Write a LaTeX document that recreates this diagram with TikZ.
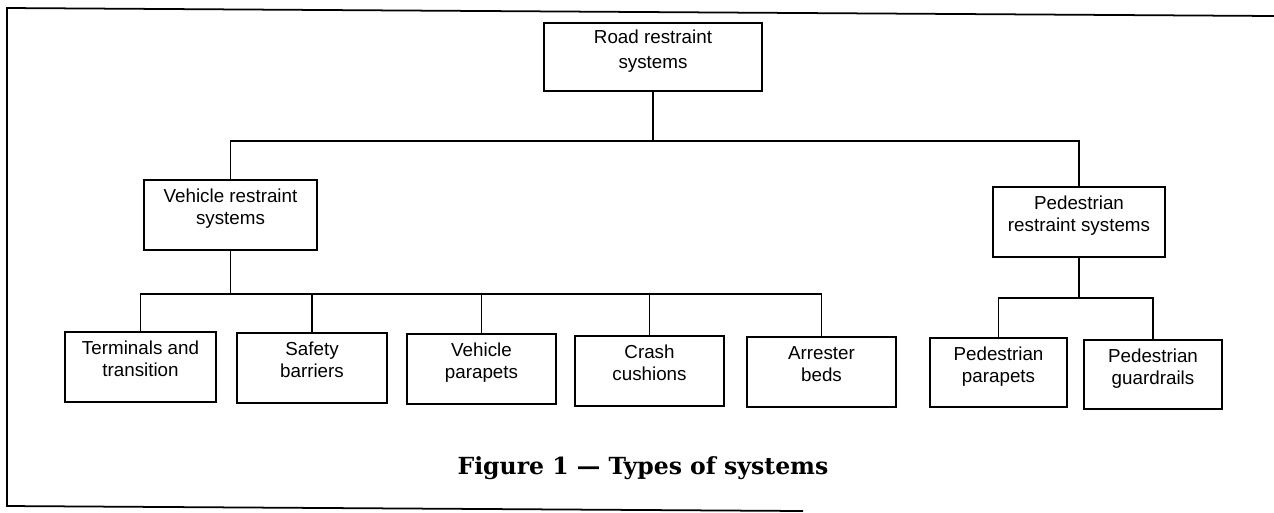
\documentclass[tikz,border=0pt]{standalone}
\usepackage{fontspec}
\setmainfont{Liberation Sans}
\newfontfamily\capfont{DejaVu Serif}
\begin{document}
\begin{tikzpicture}[x=0.02cm,y=-0.02cm,
  sysbox/.style={draw, line width=1.1pt, align=center, inner sep=0pt,
    font=\fontsize{10.7}{12.5}\selectfont, text depth=9pt},
  conn/.style={line width=0.9pt},
  framel/.style={line width=1pt}]
\useasboundingbox (0,0) rectangle (1274,512);
% frame
\draw[framel] (1274,16) -- (7,8) -- (7,506) -- (803,511);
% nodes
\node[sysbox, minimum width=218*0.02cm, minimum height=68*0.02cm, font=\fontsize{10.7}{14}\selectfont] (root) at (653,57) {Road restraint\\systems};
\node[sysbox, minimum width=173*0.02cm, minimum height=70*0.02cm] (veh) at (230.5,215) {Vehicle restraint\\systems};
\node[sysbox, minimum width=172*0.02cm, minimum height=70*0.02cm] (ped) at (1079,222) {Pedestrian\\restraint systems};
\node[sysbox, minimum width=151*0.02cm, minimum height=70*0.02cm] (term) at (140.5,367) {Terminals and\\transition};
\node[sysbox, minimum width=150*0.02cm, minimum height=70*0.02cm] (safety) at (312,368) {Safety\\barriers};
\node[sysbox, minimum width=149*0.02cm, minimum height=70*0.02cm] (vpar) at (481.5,369) {Vehicle\\parapets};
\node[sysbox, minimum width=149*0.02cm, minimum height=70*0.02cm] (crash) at (649.5,371) {Crash\\cushions};
\node[sysbox, minimum width=149*0.02cm, minimum height=70*0.02cm] (arrest) at (821.5,372) {Arrester\\beds};
\node[sysbox, minimum width=137*0.02cm, minimum height=69*0.02cm] (ppar) at (998.5,372.5) {Pedestrian\\parapets};
\node[sysbox, minimum width=138*0.02cm, minimum height=69*0.02cm] (pguard) at (1153,374.5) {Pedestrian\\guardrails};
\node[font=\capfont\bfseries\fontsize{13.4}{16}\selectfont] (cap) at (643,468) {Figure 1 — Types of systems};
% connector levels
\coordinate (rb) at (0,141);
\coordinate (vb) at (0,294);
\coordinate (pb) at (0,298);
% connectors
\draw[conn] (root.south) -- (root.south |- rb);
\draw[conn] (veh.north) -- (veh.north |- rb) -- (ped.north |- rb) -- (ped.north);
\draw[conn] (veh.south) -- (veh.south |- vb);
\draw[conn] (term.north) -- (term.north |- vb) -- (arrest.north |- vb) -- (arrest.north);
\draw[conn] (safety.north) -- (safety.north |- vb);
\draw[conn] (vpar.north) -- (vpar.north |- vb);
\draw[conn] (crash.north) -- (crash.north |- vb);
\draw[conn] (ped.south) -- (ped.south |- pb);
\draw[conn] (ppar.north) -- (ppar.north |- pb) -- (pguard.north |- pb) -- (pguard.north);
\end{tikzpicture}
\end{document}
